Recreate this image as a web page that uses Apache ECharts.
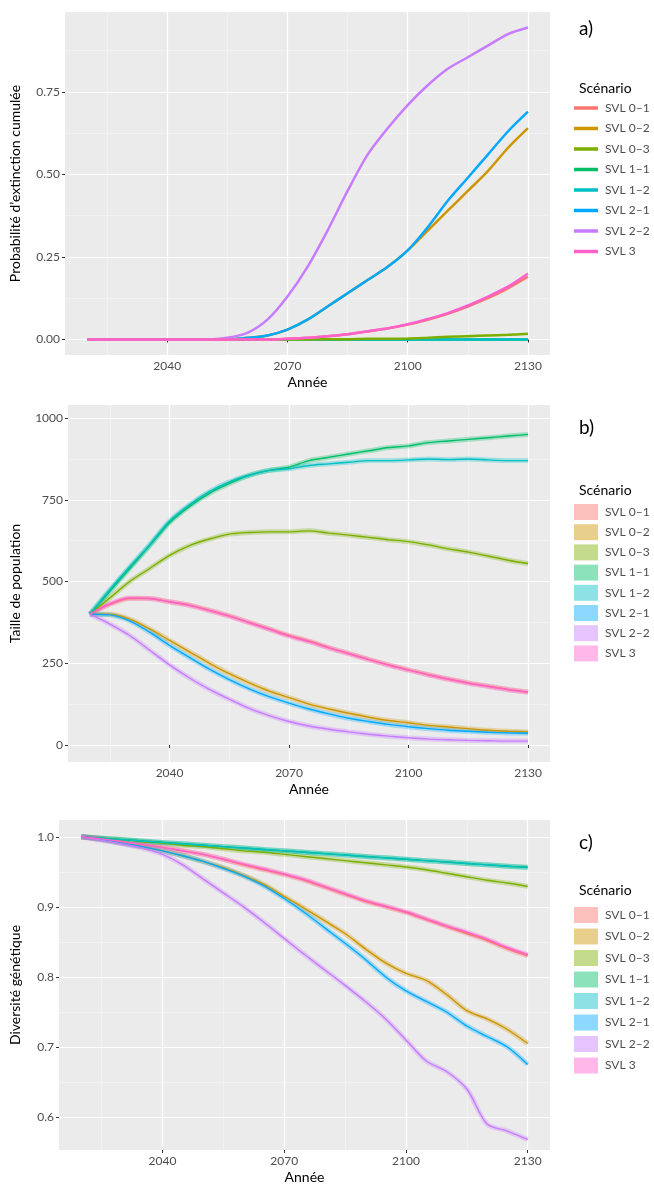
<!DOCTYPE html>
<html>
<head>
<meta charset="utf-8">
<script src="https://cdn.jsdelivr.net/npm/echarts@6/dist/echarts.min.js"></script>
<style>html,body{margin:0;padding:0;background:#fff}#c{width:654px;height:1197px}</style>
</head>
<body>
<div id="c"></div>
<script>
// années
var years = [2020,2025,2030,2035,2040,2045,2050,2055,2060,2065,2070,2075,2080,2085,2090,2095,2100,2105,2110,2115,2120,2125,2130];
var names = ['SVL 0–1','SVL 0–2','SVL 0–3','SVL 1–1','SVL 1–2','SVL 2–1','SVL 2–2','SVL 3'];
var colors = ['#F8766D','#CD9600','#7CAE00','#00BE67','#00BFC4','#00A9FF','#C77CFF','#FF61CC'];

// a) probabilité d'extinction cumulée
var extA = [
  [0,0,0,0,0,0,0,0,0,0,0.002,0.005,0.01,0.016,0.024,0.033,0.045,0.06,0.078,0.1,0.125,0.155,0.19],
  [0,0,0,0,0,0,0,0,0.005,0.012,0.03,0.06,0.1,0.14,0.18,0.22,0.27,0.33,0.39,0.45,0.51,0.58,0.64],
  [0,0,0,0,0,0,0,0,0,0,0,0,0.001,0.001,0.002,0.002,0.003,0.005,0.008,0.01,0.012,0.014,0.017],
  [0,0,0,0,0,0,0,0,0,0,0,0,0,0,0,0,0,0,0,0,0,0,0],
  [0,0,0,0,0,0,0,0,0,0,0,0,0,0,0,0,0,0,0,0,0,0,0.001],
  [0,0,0,0,0,0,0,0,0.005,0.012,0.03,0.06,0.1,0.14,0.18,0.22,0.27,0.34,0.42,0.49,0.56,0.63,0.69],
  [0,0,0,0,0,0,0,0.005,0.02,0.06,0.13,0.22,0.33,0.45,0.56,0.64,0.71,0.77,0.82,0.855,0.89,0.925,0.945],
  [0,0,0,0,0,0,0,0,0,0,0.002,0.005,0.01,0.016,0.025,0.034,0.046,0.062,0.08,0.103,0.13,0.16,0.2]
];
// b) taille de population
var popB = [
  [400,430,448,448,438,428,412,395,375,355,335,318,298,280,262,245,230,215,202,190,180,170,162],
  [400,400,385,355,320,285,250,218,190,165,145,125,110,97,85,75,68,60,55,50,45,42,40],
  [400,450,500,540,580,610,630,645,650,652,652,655,648,642,635,628,622,612,600,590,578,565,555],
  [400,470,540,610,680,730,770,800,825,840,850,870,880,890,900,910,915,925,930,935,940,945,950],
  [400,475,545,612,685,735,775,805,825,840,845,855,860,865,870,870,872,875,873,875,872,870,870],
  [400,398,380,345,305,268,232,200,172,148,128,110,95,82,72,63,56,50,45,42,39,37,36],
  [400,370,335,290,245,205,170,140,112,90,72,58,48,40,33,27,22,18,16,14,13,12,12],
  [400,432,450,448,438,427,411,394,374,354,333,316,297,279,261,244,229,214,201,189,179,169,161]
];
// c) diversité génétique
var divC = [
  [1.0,0.997,0.993,0.989,0.985,0.98,0.975,0.968,0.96,0.953,0.946,0.938,0.928,0.918,0.908,0.9,0.892,0.882,0.872,0.862,0.852,0.84,0.83],
  [1.0,0.996,0.991,0.986,0.98,0.973,0.965,0.956,0.945,0.932,0.915,0.898,0.88,0.862,0.84,0.82,0.805,0.795,0.775,0.752,0.74,0.725,0.705],
  [1.0,0.998,0.996,0.993,0.991,0.988,0.986,0.983,0.98,0.978,0.975,0.972,0.969,0.966,0.963,0.96,0.957,0.953,0.948,0.943,0.938,0.934,0.929],
  [1.0,0.998,0.996,0.994,0.992,0.99,0.988,0.986,0.984,0.982,0.98,0.978,0.976,0.974,0.972,0.970,0.968,0.966,0.964,0.962,0.960,0.958,0.957],
  [1.0,0.998,0.996,0.994,0.992,0.99,0.988,0.986,0.984,0.982,0.98,0.978,0.976,0.974,0.972,0.970,0.968,0.966,0.964,0.962,0.960,0.958,0.956],
  [1.0,0.996,0.991,0.986,0.98,0.973,0.965,0.955,0.944,0.93,0.912,0.892,0.87,0.848,0.825,0.8,0.78,0.765,0.75,0.73,0.715,0.7,0.675],
  [1.0,0.995,0.99,0.984,0.975,0.96,0.94,0.92,0.9,0.878,0.855,0.832,0.81,0.788,0.765,0.74,0.71,0.68,0.665,0.64,0.59,0.58,0.568],
  [1.0,0.997,0.993,0.989,0.985,0.98,0.975,0.968,0.961,0.954,0.947,0.939,0.929,0.919,0.909,0.901,0.893,0.883,0.873,0.864,0.854,0.842,0.832]
];

var panels = [
  {data: extA, top: 12, h: 343, left: 63, yMin: -0.047, yMax: 0.992, ticks: [0,0.25,0.5,0.75], minor: [0.125,0.375,0.625,0.875],
   fmt: function(v){return v.toFixed(2);}, title: 'Probabilité d\u2019extinction cumulée', label: 'a)', legTop: 102, titleTop: 76, fill: false},
  {data: popB, top: 405, h: 357, left: 66, yMin: -52, yMax: 1040, ticks: [0,250,500,750,1000], minor: [125,375,625,875],
   fmt: function(v){return String(v);}, title: 'Taille de population', label: 'b)', legTop: 504, titleTop: 478, fill: true},
  {data: divC, top: 820, h: 330, left: 57, yMin: 0.553, yMax: 1.024, ticks: [0.6,0.7,0.8,0.9,1.0], minor: [0.65,0.75,0.85,0.95],
   fmt: function(v){return v.toFixed(1);}, title: 'Diversité génétique', label: 'c)', legTop: 907, titleTop: 878, fill: true}
];

var txt = '#4d4d4d';
var option = {animation: false, backgroundColor: '#fff', textStyle: {fontFamily: 'Lato'},
  grid: [], xAxis: [], yAxis: [], series: [], legend: [], title: []};

panels.forEach(function(p, k) {
  option.grid.push({left: p.left, top: p.top, width: 550 - p.left, height: p.h,
    backgroundColor: '#ebebeb', show: true, borderWidth: 0});
  // axe majeur
  option.xAxis.push({type: 'value', gridIndex: k, min: 2014.5, max: 2135.5,
    axisLine: {show: false}, axisTick: {length: 3, lineStyle: {color: '#333'}, customValues: [2040,2070,2100,2130]},
    axisLabel: {color: txt, fontSize: 12, margin: 5, customValues: [2040,2070,2100,2130], formatter: function(v){return String(v);}},
    splitLine: {lineStyle: {color: '#fff', width: 1.2}},
    name: 'Année', nameLocation: 'middle', nameGap: 20, nameTextStyle: {color: '#000', fontSize: 14}});
  // axe mineur
  option.xAxis.push({type: 'value', gridIndex: k, min: 2014.5, max: 2135.5,
    axisLine: {show: false}, axisTick: {show: false, customValues: [2025,2055,2085,2115]},
    axisLabel: {show: false, customValues: [2025,2055,2085,2115]},
    splitLine: {lineStyle: {color: '#f7f7f7', width: 0.6}}});
  option.yAxis.push({type: 'value', gridIndex: k, min: p.yMin, max: p.yMax,
    axisLine: {show: false}, axisTick: {length: 3, lineStyle: {color: '#333'}, customValues: p.ticks},
    axisLabel: {color: txt, fontSize: 12, margin: 5, customValues: p.ticks, formatter: p.fmt},
    splitLine: {lineStyle: {color: '#fff', width: 1.2}},
    name: p.title, nameLocation: 'middle', nameGap: p.left - 20, nameTextStyle: {color: '#000', fontSize: 14}});
  option.yAxis.push({type: 'value', gridIndex: k, min: p.yMin, max: p.yMax,
    axisLine: {show: false}, axisTick: {show: false, customValues: p.minor},
    axisLabel: {show: false, customValues: p.minor},
    splitLine: {lineStyle: {color: '#f7f7f7', width: 0.6}}});

  var order = k === 0 ? [3,4,2,6,1,5,0,7] : [0,1,2,3,4,5,6,7];
  order.forEach(function(i) {
    var pts = years.map(function(y, j){ return [y, p.data[i][j]]; });
    if (p.fill) {
      // bande (intervalle)
      option.series.push({type: 'line', xAxisIndex: 2*k, yAxisIndex: 2*k, data: pts, smooth: 0.3,
        showSymbol: false, silent: true, lineStyle: {color: colors[i], width: 5, opacity: 0.3}, z: 1});
    }
    option.series.push({name: names[i], type: 'line', xAxisIndex: 2*k, yAxisIndex: 2*k, data: pts,
      smooth: 0.3, showSymbol: false, color: colors[i], lineStyle: {width: k === 0 ? 2.5 : 1.4}, z: 2});
  });

  option.legend.push({left: 574, top: p.legTop, orient: 'vertical', itemGap: k === 0 ? 8.5 : (k === 2 ? 5.5 : 4.2),
    itemWidth: 24, itemHeight: p.fill ? 16 : 3.5, data: names,
    icon: 'rect', selectedMode: false,
    itemStyle: p.fill ? {opacity: 0.45} : {},
    padding: 0,
    textStyle: {color: txt, fontSize: 12, padding: [0,0,0,2]}});
  option.title.push({text: 'Scénario', left: 574, top: p.titleTop, textStyle: {fontSize: 14, fontWeight: 'normal', color: '#000'}});
  option.title.push({text: p.label, left: 574, top: p.top + (k === 0 ? 2 : 8), textStyle: {fontSize: 19, fontWeight: 'normal', color: '#000'}});
});

var chart = echarts.init(document.getElementById('c'));
chart.setOption(option);
</script>
</body>
</html>
